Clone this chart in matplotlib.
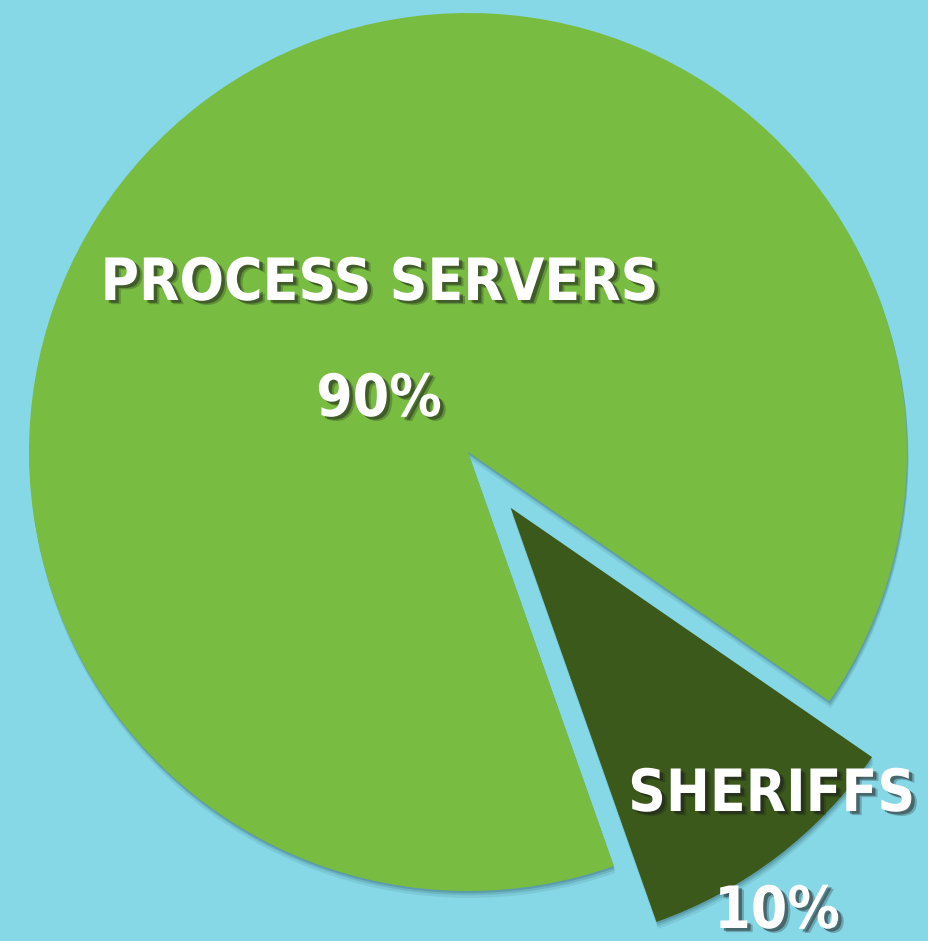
import matplotlib
matplotlib.use("Agg")
import matplotlib.pyplot as plt
import matplotlib.patheffects as pe
from matplotlib import font_manager as fm

categories = ["SHERIFFS", "PROCESS SERVERS"]
shares = [10, 90]
pct_labels = ["10%", "90%"]
colors = ["#3B591B", "#78BC41"]
explode = [0.16, 0.0]

W, H = 929, 941
R = 439.0
cx, cy = 468.0, 452.0

fig = plt.figure(figsize=(W / 100, H / 100), dpi=100)
fig.patch.set_facecolor("#87D8E6")
ax = fig.add_axes([0, 0, 1, 1])
ax.set_facecolor("#87D8E6")

wedges, _ = ax.pie(shares, colors=colors, explode=explode, startangle=-70.6,
                   counterclock=True, radius=1.0,
                   wedgeprops=dict(linewidth=0))
for w in wedges:
    w.set_path_effects([
        pe.SimplePatchShadow(offset=(1, -5), shadow_rgbFace="#2a5a66", alpha=0.12),
        pe.SimplePatchShadow(offset=(1, -3), shadow_rgbFace="#2a5a66", alpha=0.18),
        pe.SimplePatchShadow(offset=(0.5, -1.5), shadow_rgbFace="#2a5a66", alpha=0.25),
        pe.Normal()])

ax.set_xlim(-cx / R, (W - cx) / R)
ax.set_ylim(-(H - cy) / R, cy / R)
ax.set_aspect("equal")
ax.axis("off")

def px(x, y):
    return ((x - cx) / R, (cy - y) / R)

fp = fm.FontProperties(family="DejaVu Sans", weight="bold", stretch="condensed", size=42)
shadow = [pe.SimplePatchShadow(offset=(4, -3), shadow_rgbFace="#1a1a1a", alpha=0.25),
          pe.SimplePatchShadow(offset=(2.5, -2), shadow_rgbFace="#1a1a1a", alpha=0.45),
          pe.Normal()]

# label positions: (x center, baseline y) in pixels
label_pos = {"PROCESS SERVERS": [(380, 300), (379, 416)],
             "SHERIFFS": [(772, 811), (777, 928)]}
for cat, pct in zip(categories, pct_labels):
    (x1, y1), (x2, y2) = label_pos[cat]
    t = ax.text(*px(x1, y1), cat, ha="center", va="baseline", fontproperties=fp, color="white")
    t.set_path_effects(shadow)
    t = ax.text(*px(x2, y2), pct, ha="center", va="baseline", fontproperties=fp, color="white")
    t.set_path_effects(shadow)

fig.savefig("out.png", dpi=100, facecolor=fig.get_facecolor())
